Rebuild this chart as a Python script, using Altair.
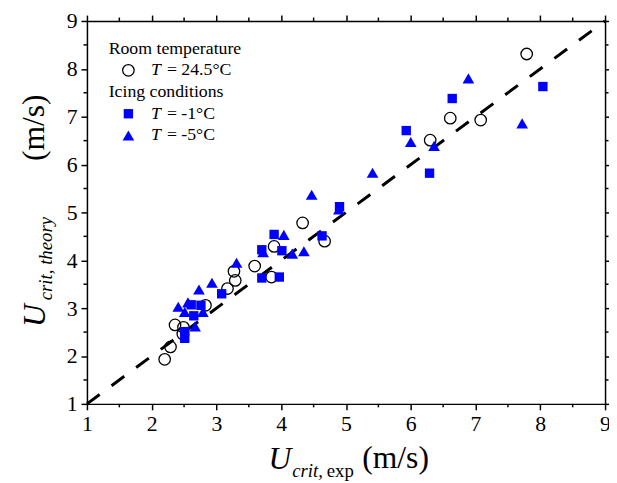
import altair as alt
import pandas as pd

FONT = "Liberation Serif"
BLUE = "#0000FF"

# Room temperature, T = 24.5°C (open circles)
circ_x = [2.20, 2.29, 2.36, 2.49, 2.48, 2.83, 3.17, 3.29, 3.27, 3.59, 3.89, 3.85, 4.33, 4.67, 6.30, 6.61, 7.08, 7.79]
circ_y = [1.93, 2.19, 2.65, 2.60, 2.46, 3.06, 3.41, 3.58, 3.77, 3.88, 4.29, 3.65, 4.78, 4.40, 6.51, 6.97, 6.93, 8.31]

# Icing, T = -1°C (squares)
sq_x = [2.51, 2.51, 2.61, 2.76, 2.65, 3.08, 3.89, 3.70, 4.01, 3.70, 3.97, 4.63, 4.90, 6.29, 6.64, 5.93, 8.04]
sq_y = [2.51, 2.37, 3.07, 3.06, 2.84, 3.30, 4.54, 4.22, 4.20, 3.63, 3.65, 4.51, 5.12, 5.82, 7.38, 6.71, 7.63]

# Icing, T = -5°C (triangles)
tri_x = [2.41, 2.56, 2.51, 2.79, 2.67, 2.73, 2.93, 3.31, 3.72, 4.04, 4.17, 4.35, 4.47, 4.89, 5.41, 6.00, 6.36, 6.89, 7.72]
tri_y = [3.03, 3.12, 2.92, 2.92, 2.62, 3.39, 3.53, 3.95, 4.17, 4.53, 4.14, 4.19, 5.37, 5.06, 5.83, 6.47, 6.39, 7.80, 6.86]

# 1:1 reference line
line_x = [1, 9]
line_y = [1, 9]

major_ticks = [1, 2, 3, 4, 5, 6, 7, 8, 9]
minor_ticks = [1.5, 2.5, 3.5, 4.5, 5.5, 6.5, 7.5, 8.5]

W, H = 525, 388

xs = alt.Scale(domain=[1, 9], nice=False, zero=False)
ys = alt.Scale(domain=[1, 9], nice=False, zero=False)

axis_common = dict(
    values=major_ticks, tickSize=6, tickWidth=1.5, tickColor="black",
    domainColor="black", domainWidth=1.5, grid=False, title=None,
    labelFont=FONT, labelFontSize=22, labelColor="black", labelFlush=False,
)

df_line = pd.DataFrame({"x": line_x, "y": line_y})
line = alt.Chart(df_line).mark_line(
    color="black", strokeWidth=3, strokeDash=[16, 15], strokeCap="butt"
).encode(
    x=alt.X("x:Q", scale=xs, axis=alt.Axis(orient="bottom", labelPadding=4, **axis_common)),
    y=alt.Y("y:Q", scale=ys, axis=alt.Axis(orient="left", labelPadding=4, **axis_common)),
)

frame = alt.Chart(df_line).mark_point(opacity=0).encode(
    x=alt.X("x:Q", scale=xs, axis=alt.Axis(orient="top", labels=False, **axis_common)),
    y=alt.Y("y:Q", scale=ys, axis=alt.Axis(orient="right", labels=False, **axis_common)),
)

df_minor = pd.DataFrame({"m": minor_ticks})
rule_style = dict(color="black", strokeWidth=1.5)
minor_bottom = alt.Chart(df_minor).mark_rule(**rule_style).encode(
    x=alt.X("m:Q", scale=xs, axis=None), y=alt.value(H), y2=alt.value(H + 3.5))
minor_top = alt.Chart(df_minor).mark_rule(**rule_style).encode(
    x=alt.X("m:Q", scale=xs, axis=None), y=alt.value(0), y2=alt.value(-3.5))
minor_left = alt.Chart(df_minor).mark_rule(**rule_style).encode(
    y=alt.Y("m:Q", scale=ys, axis=None), x=alt.value(0), x2=alt.value(-3.5))
minor_right = alt.Chart(df_minor).mark_rule(**rule_style).encode(
    y=alt.Y("m:Q", scale=ys, axis=None), x=alt.value(W), x2=alt.value(W + 3.5))

circles = alt.Chart(pd.DataFrame({"x": circ_x, "y": circ_y})).mark_point(
    shape="circle", filled=False, stroke="black", strokeWidth=1.3, size=135, opacity=1
).encode(x=alt.X("x:Q", scale=xs, axis=None), y=alt.Y("y:Q", scale=ys, axis=None))

squares = alt.Chart(pd.DataFrame({"x": sq_x, "y": sq_y})).mark_point(
    shape="square", filled=True, color=BLUE, size=90, opacity=1
).encode(x=alt.X("x:Q", scale=xs, axis=None), y=alt.Y("y:Q", scale=ys, axis=None))

triangles = alt.Chart(pd.DataFrame({"x": tri_x, "y": tri_y})).mark_point(
    shape="triangle-up", filled=True, color=BLUE, size=140, opacity=1
).encode(x=alt.X("x:Q", scale=xs, axis=None), y=alt.Y("y:Q", scale=ys, axis=None))


def label(txt, x, y, size, italic=False, angle=0, baseline="alphabetic"):
    return alt.Chart(pd.DataFrame({"t": [txt]})).mark_text(
        font=FONT, fontSize=size, fontStyle="italic" if italic else "normal",
        angle=angle, align="left", baseline=baseline, color="black"
    ).encode(x=alt.value(x), y=alt.value(y), text="t:N")


def symbol(shape, x, y, size, filled, color):
    kw = dict(shape=shape, size=size, opacity=1)
    if filled:
        kw.update(filled=True, color=color)
    else:
        kw.update(filled=False, stroke=color, strokeWidth=1.3)
    return alt.Chart(pd.DataFrame({"a": [0]})).mark_point(**kw).encode(
        x=alt.value(x), y=alt.value(y))


legend = [
    label("Room temperature", 22, 28, 18, baseline="middle"),
    symbol("circle", 42, 50, 135, False, "black"),
    label("T", 65, 50, 18, italic=True, baseline="middle"),
    label("= 24.5°C", 81, 50, 18, baseline="middle"),
    label("Icing conditions", 22, 72, 18, baseline="middle"),
    symbol("square", 42, 94, 90, True, BLUE),
    label("T", 65, 94, 18, italic=True, baseline="middle"),
    label("= -1°C", 81, 94, 18, baseline="middle"),
    symbol("triangle-up", 42, 116, 140, True, BLUE),
    label("T", 65, 116, 18, italic=True, baseline="middle"),
    label("= -5°C", 81, 116, 18, baseline="middle"),
]

titles = [
    # x title
    label("U", 184, 454, 32, italic=True),
    label("crit,", 208, 462, 19, italic=True),
    label("exp", 243, 462, 19),
    label("(m/s)", 279, 453, 32),
    # y title (rotated)
    label("U", -43, 310, 32, italic=True, angle=270),
    label("crit, theory", -35, 283, 19, italic=True, angle=270),
    label("(m/s)", -44, 142, 32, angle=270),
]

chart = alt.layer(
    line, frame, minor_bottom, minor_top, minor_left, minor_right,
    circles, squares, triangles, *legend, *titles
).resolve_axis(x="independent", y="independent").properties(
    width=W, height=H,
    padding={"left": 80, "top": 10, "right": 4, "bottom": 75},
    autosize=alt.AutoSizeParams(type="none"),
).configure_view(stroke=None).configure(background="white")

chart.save("out.html", embed_options={"renderer": "svg", "actions": False})
